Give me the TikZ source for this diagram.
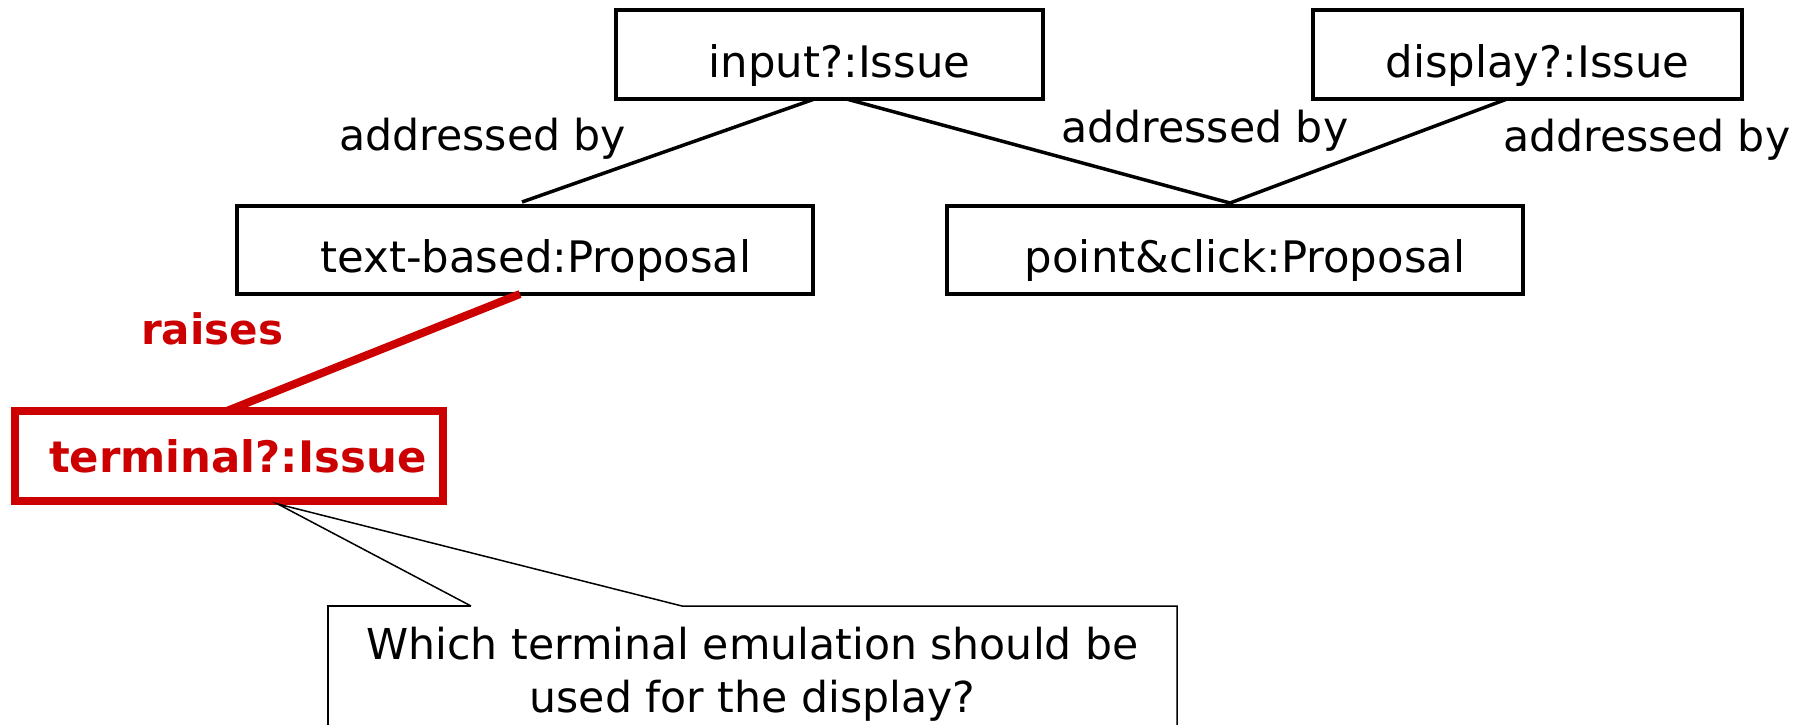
\documentclass[tikz,border=0pt]{standalone}
\usepackage{fontspec}
\setmainfont{DejaVu Sans}
\definecolor{rred}{HTML}{CC0000}
\begin{document}
\begin{tikzpicture}[x=1pt,y=-1pt,
  box/.style={draw, line width=4pt, fill=white, inner sep=0pt, outer sep=0pt,
    text height=45pt, text depth=0pt, font=\fontsize{43.4}{50}\selectfont},
  conn/.style={line width=3.5pt},
  lab/.style={font=\fontsize{42.7}{50}\selectfont, inner sep=0pt, anchor=base west},
]
\clip (0,0) rectangle (1806,724);
% boxes
\node[box, minimum width=427pt, minimum height=89pt] (input) at (829.5,54.5) {\hspace*{20pt}input?:Issue};
\node[box, minimum width=429pt, minimum height=89pt] (display) at (1527.5,54.5) {\hspace*{20pt}display?:Issue};
\node[box, minimum width=576pt, minimum height=88pt] (textbased) at (525,250) {\hspace*{22pt}text-based:Proposal};
\node[box, minimum width=576pt, minimum height=88pt] (pc) at (1235,250) {\hspace*{20pt}point\&click:Proposal};
\node[box, draw=rred, text=rred, line width=8pt, minimum width=428.5pt, minimum height=90pt,
  text height=32pt, font=\bfseries\fontsize{43.4}{50}\selectfont] (terminal) at (228.75,456) {\hspace*{18pt}terminal?:Issue};
% labels
\node[lab] (l1) at (339,150) {addressed by};
\node[lab] (l2) at (1061,142) {addressed by};
\node[lab] (l3) at (1503,151) {addressed by};
\node[lab, text=rred, font=\bfseries\fontsize{42}{50}\selectfont] (raises) at (141,344) {raises};
% connectors
\coordinate (pctop) at ([xshift=-5pt,yshift=3pt]pc.north);
\draw[conn] ([xshift=-15pt]input.south) -- ([xshift=-3pt,yshift=4pt]textbased.north);
\draw[conn] ([xshift=17pt]input.south) -- (pctop);
\draw[conn] ([xshift=-20.5pt]display.south) -- (pctop);
\draw[line width=8pt, rred] ([xshift=-5pt]textbased.south) -- ([xshift=-2pt]terminal.north);
% callout
\coordinate (apex) at ([xshift=49pt,yshift=-3pt]terminal.south);
\node[inner sep=0pt, align=center, font=\fontsize{42.6}{53}\selectfont] (callout) at (752.5,674.4)
  {Which terminal emulation should be\\used for the display?};
\draw[line width=1.5pt] (471,606) -- (apex) -- (682,606) -- (1177,606) -- (1177,740);
\draw[line width=1.5pt] (471,606) -- (328,606) -- (328,740);
\end{tikzpicture}
\end{document}
